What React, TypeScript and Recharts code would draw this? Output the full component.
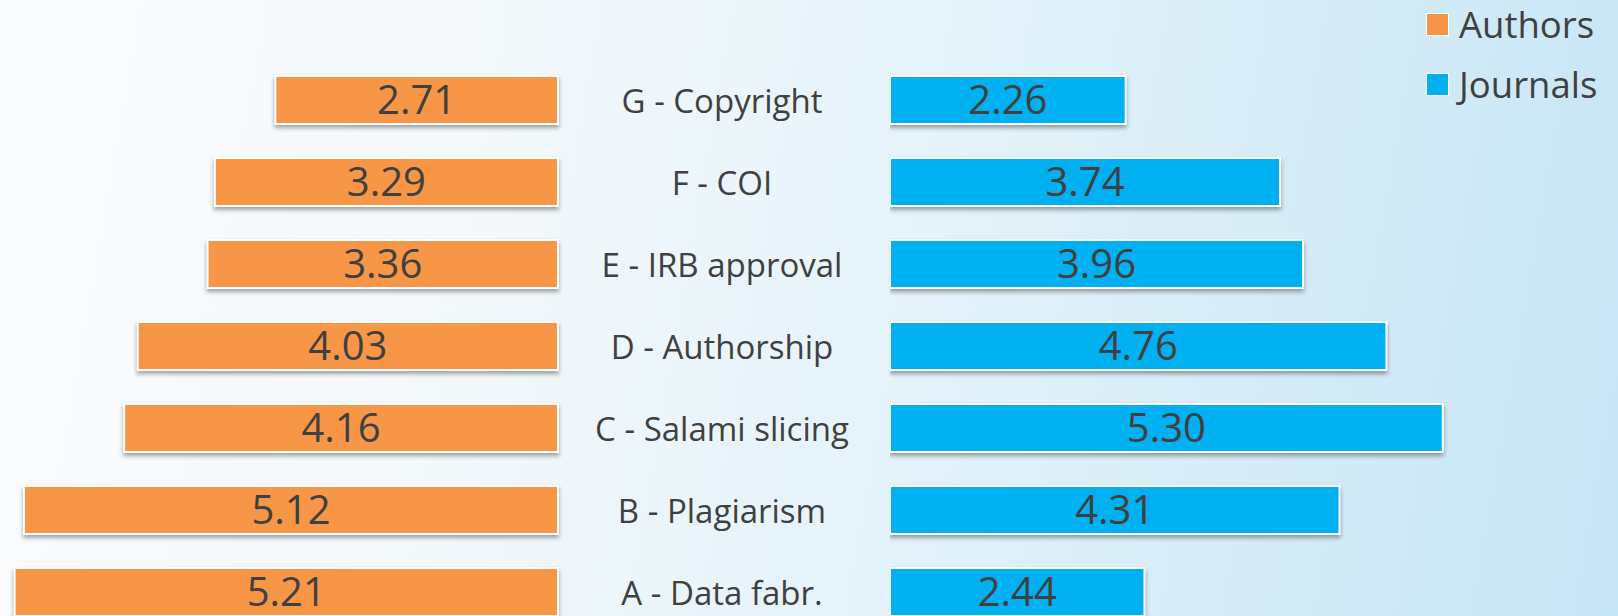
import React from "react";
import { BarChart, Bar, XAxis, YAxis, LabelList, Legend } from "recharts";

// ─────────────────────────────────────────
// Data (top row first)
// ─────────────────────────────────────────
const categories = [
  "G - Copyright",
  "F - COI",
  "E - IRB approval",
  "D - Authorship",
  "C - Salami slicing",
  "B - Plagiarism",
  "A - Data fabr.",
];
const authors = [2.71, 3.29, 3.36, 4.03, 4.16, 5.12, 5.21];
const journals = [2.26, 3.74, 3.96, 4.76, 5.3, 4.31, 2.44];

const series = [
  { key: "authors", name: "Authors", color: "#F79646" },
  { key: "journals", name: "Journals", color: "#00B0F0" },
];

const rows = categories.map((cat, i) => ({
  cat,
  authors: authors[i],
  journals: journals[i],
}));

// ─────────────────────────────────────────
// Shared styles
// ─────────────────────────────────────────
const FONT = "'Open Sans', sans-serif";
const TEXT = "#404040";
const CHART_H = 640;
const MARGIN = { top: 59, right: 0, bottom: 7, left: 0 };

// bar with white edge + soft drop shadow (handles reversed axis => negative width)
function ShadowBar(props: any) {
  const { x, y, width, height, fill } = props;
  if (width == null || height == null) return null;
  const left = width < 0 ? x + width : x;
  return (
    <rect
      x={left}
      y={y}
      width={Math.abs(width)}
      height={height}
      fill={fill}
      stroke="#ffffff"
      strokeWidth={2}
      style={{ filter: "drop-shadow(0px 3px 2px rgba(0,0,0,0.35))" }}
    />
  );
}

function CategoryTick({ x, y, payload }: any) {
  return (
    <text
      x={x}
      y={y}
      textAnchor="middle"
      dominantBaseline="central"
      fill={TEXT}
      fontSize={33}
      fontFamily={FONT}
    >
      {payload.value}
    </text>
  );
}

function LegendBox() {
  return (
    <div style={{ display: "flex", flexDirection: "column", gap: 16, fontFamily: FONT }}>
      {series.map((s) => (
        <div key={s.key} style={{ display: "flex", alignItems: "center", gap: 10 }}>
          <span style={{
            width: 21, height: 21, background: s.color, border: "1px solid #fff",
            display: "inline-block",
          }} />
          <span style={{ fontSize: 36.5, color: TEXT, lineHeight: "44px" }}>{s.name}</span>
        </div>
      ))}
    </div>
  );
}

const fmt = (v: any) => Number(v).toFixed(2);

export default function App() {
  return (
    <div style={{
      position: "absolute", left: 0, top: 0, width: 1618, height: 616, overflow: "hidden",
      background: "linear-gradient(100deg, #fbfcfd 0%, #f3f8fb 30%, #e3f2fa 58%, #d3ebf7 80%, #c6e5f5 100%)",
    }}>
      {/* Authors (left, reversed) + category labels */}
      <div style={{ position: "absolute", left: 0, top: 0 }}>
        <BarChart width={890} height={CHART_H} data={rows} layout="vertical" margin={MARGIN}>
          <XAxis type="number" domain={[0, 5.35]} reversed hide />
          <YAxis
            type="category"
            dataKey="cat"
            orientation="right"
            width={332}
            axisLine={false}
            tickLine={false}
            tickSize={0}
            tickMargin={164}
            tick={<CategoryTick />}
          />
          <Bar dataKey="authors" name="Authors" fill={series[0].color} barSize={48}
            shape={<ShadowBar />} isAnimationActive={false}>
            <LabelList dataKey="authors" position="center" formatter={fmt}
              fill={TEXT} fontSize={40} fontFamily={FONT} />
          </Bar>
        </BarChart>
      </div>

      {/* Journals (right) */}
      <div style={{ position: "absolute", left: 890, top: 0 }}>
        <BarChart width={728} height={CHART_H} data={rows} layout="vertical" margin={MARGIN}>
          <XAxis type="number" domain={[0, 6.98]} hide />
          <YAxis type="category" dataKey="cat" hide />
          <Legend
            layout="vertical"
            verticalAlign="middle"
            align="center"
            wrapperStyle={{ top: 2, left: 536, right: "auto", bottom: "auto", width: "auto" }}
            content={() => <LegendBox />}
          />
          <Bar dataKey="journals" name="Journals" fill={series[1].color} barSize={48}
            shape={<ShadowBar />} isAnimationActive={false}>
            <LabelList dataKey="journals" position="center" formatter={fmt}
              fill={TEXT} fontSize={40} fontFamily={FONT} />
          </Bar>
        </BarChart>
      </div>
    </div>
  );
}
